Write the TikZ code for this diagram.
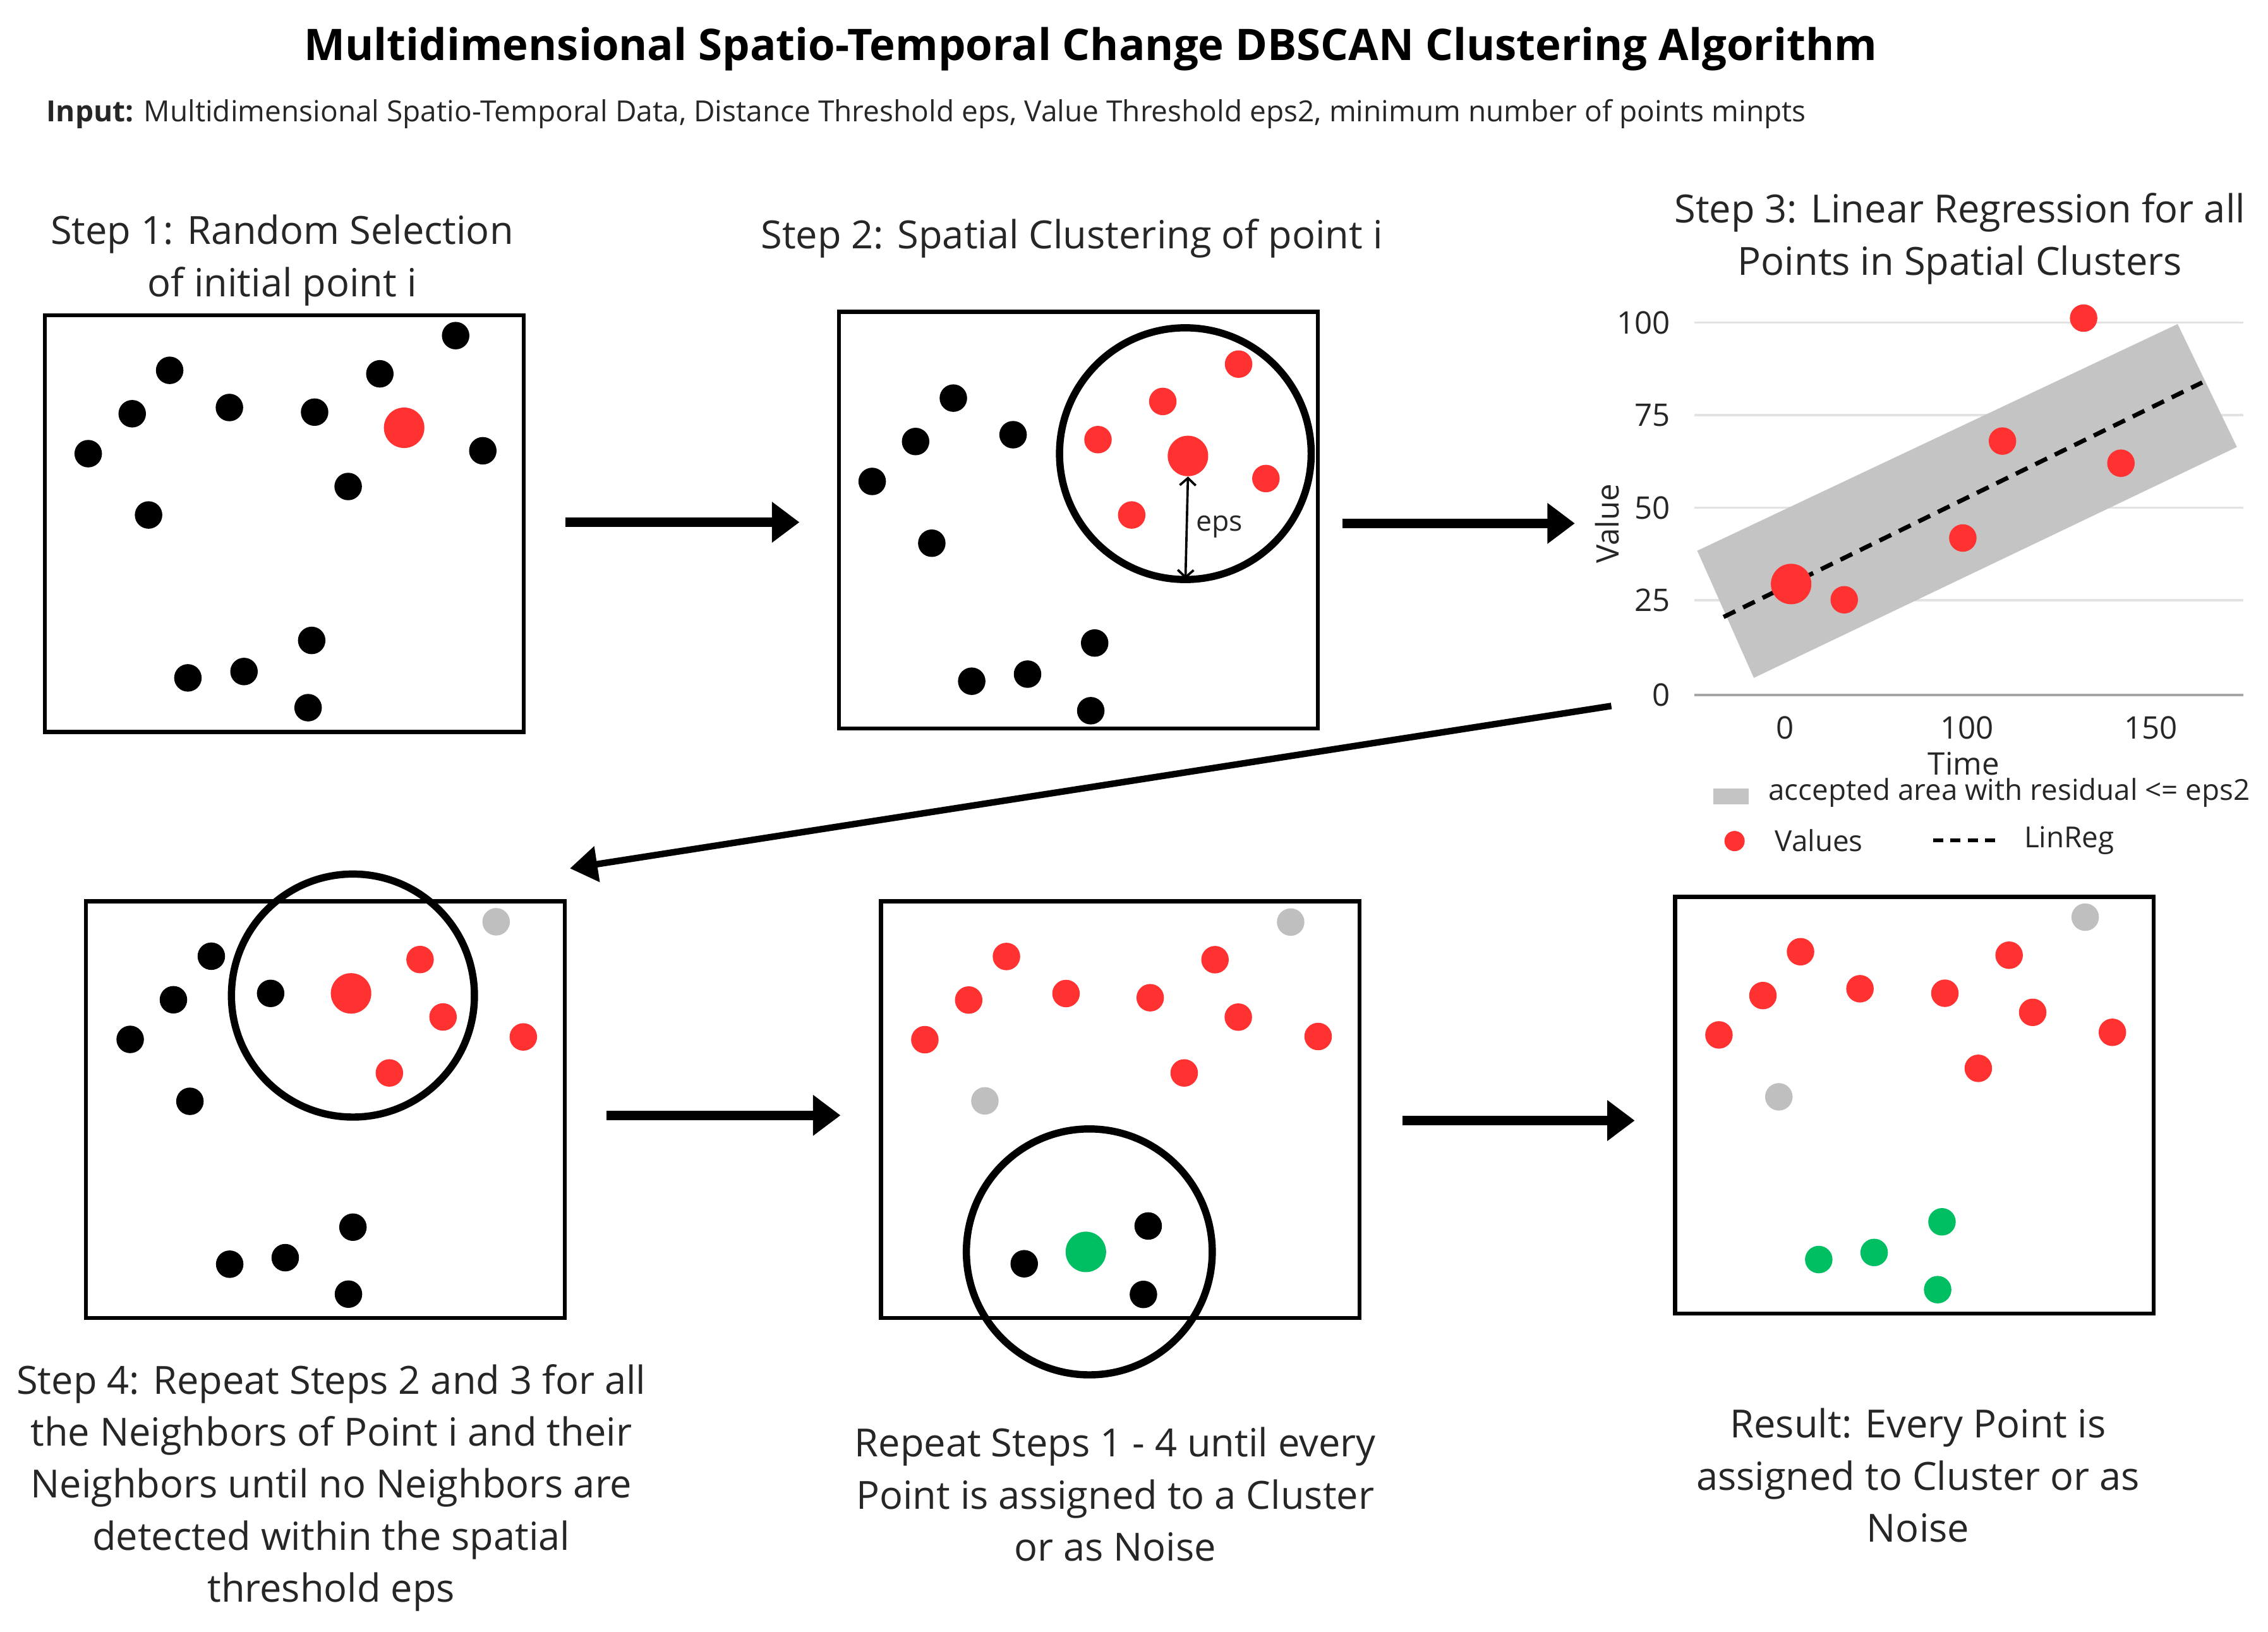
\documentclass[tikz,border=0pt]{standalone}
\usepackage{fontspec}
\setmainfont{Open Sans}
\usetikzlibrary{arrows.meta,calc}
\definecolor{dotred}{HTML}{FF3131}
\definecolor{dotgreen}{HTML}{00BF63}
\definecolor{dotgray}{HTML}{BFBFBF}
\definecolor{bandgray}{HTML}{C4C4C4}
\definecolor{gridgray}{HTML}{E2E2E2}
\definecolor{axisgray}{HTML}{A6A6A6}
\definecolor{txt}{HTML}{262626}
\begin{document}
\begin{tikzpicture}[x=1pt,y=-1pt,
  pt/.style={circle,inner sep=0pt,minimum size=19pt,fill=black},
  rpt/.style={pt,fill=dotred},
  gpt/.style={pt,fill=dotgray},
  grpt/.style={pt,fill=dotgreen},
  big/.style={minimum size=28pt},
  panel/.style={draw,line width=2.8pt,inner sep=0pt,minimum width=331pt,minimum height=288pt},
  ring/.style={draw,circle,line width=5pt,inner sep=0pt},
  flow/.style={line width=6.5pt,-{Triangle[length=19pt,width=27pt]}},
  back/.style={line width=4.5pt,-{Triangle[length=19pt,width=24pt]}},
  lbl/.style={font=\fontsize{26.8}{36}\selectfont,text=txt,align=center,inner sep=0pt},
  tick/.style={font=\fontsize{21.5}{24}\selectfont,text=txt,inner sep=0pt},
  leg/.style={font=\fontsize{20}{24}\selectfont,text=txt,inner sep=0pt,anchor=west},
]
\path[use as bounding box] (0,0) rectangle (1568,1128);

% title and input
\node[font=\bfseries\fontsize{30.1}{36}\selectfont,inner sep=0pt] (title) at (754,34) {Multidimensional Spatio-Temporal Change DBSCAN Clustering Algorithm};
\node[font=\fontsize{20.1}{24}\selectfont,anchor=west,inner sep=0pt,text=txt] (input) at (32,79) {\textbf{Input:} Multidimensional Spatio-Temporal Data, Distance Threshold eps, Value Threshold eps2, minimum number of points minpts};

% step labels
\node[lbl] (l1) at (195,180) {Step 1: Random Selection\\of initial point i};
\node[lbl] (l2) at (741,165) {Step 2: Spatial Clustering of point i};
\node[lbl] (l3) at (1355,165) {Step 3: Linear Regression for all\\Points in Spatial Clusters};
\node[lbl] (l4) at (229,1028.5) {Step 4: Repeat Steps 2 and 3 for all\\the Neighbors of Point i and their\\Neighbors until no Neighbors are\\detected within the spatial\\threshold eps};
\node[lbl] (l5) at (771,1033) {Repeat Steps 1 - 4 until every\\Point is assigned to a Cluster\\or as Noise};
\node[lbl] (l6) at (1326,1020) {Result: Every Point is\\assigned to Cluster or as\\Noise};

% panels
\node[panel] (p1) at (196.5,362) {};
\node[panel] (p2) at (745.5,359.5) {};
\node[panel] (p4) at (225,767) {};
\node[panel] (p5) at (774.5,767) {};
\node[panel] (p6) at (1323.5,764) {};

% step 1 points
\foreach \x/\y [count=\i] in {315/232,117.3/256,262.6/258.4,91.4/286,158.6/281.7,217.5/284.9,61/313.6,333.8/311.6,240.7/336.3,102.7/356,215.5/442.7,129.9/468.6,168.7/464.2,213/489.2}
  \node[pt] (a\i) at (\x,\y) {};
\node[rpt,big] (ai) at (279.4,295.7) {};

% step 2 points
\foreach \x/\y [count=\i] in {659.1/275.2,633/305.2,700.4/300.5,603/332.8,644.2/375.5,756.8/444.5,710.4/466,671.8/470.9,754.1/491.3}
  \node[pt] (b\i) at (\x,\y) {};
\foreach \x/\y [count=\i] in {856.3/251.7,803.9/277.5,759.1/303.9,875.2/330.8,782.4/356}
  \node[rpt] (br\i) at (\x,\y) {};
\node[rpt,big] (bi) at (821.3,315.2) {};
\node[ring,minimum size=174pt] (ring2) at (819.5,313.6) {};
\draw[line width=1.6pt,{Straight Barb[length=5pt,width=11pt]}-{Straight Barb[length=5pt,width=11pt]},shorten >=3pt] (bi.south) -- (ring2.south);
\node[font=\fontsize{19.5}{24}\selectfont,text=txt,inner sep=0pt] (eps) at (843,364) {eps};

% step 3 chart
\foreach \y in {223,286.9,351,414.9}
  \draw[gridgray,line width=1.5pt] (1171.5,\y) -- (1551,\y);
\draw[axisgray,line width=1.8pt] (1171.5,480.4) -- (1551,480.4);
\fill[bandgray] (1173.4,380.7) -- (1505.5,224) -- (1546.5,309) -- (1212.5,468.6) -- cycle;
\draw[line width=3pt,dash pattern=on 9pt off 6pt] (1191.6,426.5) -- (1522.5,264.4);
\node[tick,anchor=east] (y100) at (1155,223) {100};
\node[tick,anchor=east] (y75) at (1155,286.9) {75};
\node[tick,anchor=east] (y50) at (1155,351) {50};
\node[tick,anchor=east] (y25) at (1155,414.9) {25};
\node[tick,anchor=east] (y0) at (1155,480.4) {0};
\node[tick] (x0) at (1234,503) {0};
\node[tick] (x100) at (1360,503) {100};
\node[tick] (x150) at (1487,503) {150};
\node[tick] (xt) at (1357.6,528) {Time};
\node[tick,rotate=90] (yt) at (1111,362) {Value};
\node[rpt,big] (c0) at (1238.3,403.7) {};
\foreach \x/\y [count=\i] in {1275/414.6,1357/371.9,1384.4/304.9,1466.3/320.2,1440.5/219.9}
  \node[rpt] (c\i) at (\x,\y) {};
% legend
\fill[bandgray] (1184.6,544.9) rectangle (1208.9,555.8);
\node[leg] (lg1) at (1222.5,548) {accepted area with residual <= eps2};
\node[rpt,minimum size=14pt] (lgd) at (1199.2,581.4) {};
\node[leg] (lg2) at (1227,581) {Values};
\draw[line width=2.5pt,dash pattern=on 7pt off 5pt] (1336.4,581) -- (1380.4,581);
\node[leg] (lg3) at (1399.2,581) {LinReg};

% step 4 points
\foreach \x/\y [count=\i] in {146.1/661,119.9/691.1,90/718.5,187.1/686.7,131.3/761.3,244/848.3,197.2/869.4,158.8/873.9,240.9/894.6}
  \node[pt] (d\i) at (\x,\y) {};
\foreach \x/\y [count=\i] in {290.4/663.3,306.3/703,269.2/741.7,361.8/716.8}
  \node[rpt] (dr\i) at (\x,\y) {};
\node[gpt] (dg1) at (343,637.2) {};
\node[rpt,big] (di) at (242.7,686.7) {};
\node[ring,minimum size=168pt] (ring4) at (244,688.2) {};

% step 5 points
\foreach \x/\y [count=\i] in {695.8/661.2,669.7/691.3,737/686.8,795.2/689.7,840/663.4,856.1/703.1,911.3/716.5,639.4/718.7,818.7/741.7}
  \node[rpt] (e\i) at (\x,\y) {};
\node[gpt] (eg1) at (892.3,637.4) {};
\node[gpt] (eg2) at (680.9,761) {};
\foreach \x/\y [count=\i] in {793.8/847.5,708.1/873.6,790.5/894.8}
  \node[pt] (eb\i) at (\x,\y) {};
\node[grpt,big] (ei) at (750.7,865.4) {};
\node[ring,minimum size=170pt] (ring5) at (753.1,865.4) {};

% result points
\foreach \x/\y [count=\i] in {1244.8/657.9,1218.8/688.2,1285.9/683.5,1344.6/686.6,1389/660.3,1405.3/699.8,1460.4/713.6,1188.4/715.4,1367.7/738.5}
  \node[rpt] (f\i) at (\x,\y) {};
\node[gpt] (fg1) at (1441.6,634) {};
\node[gpt] (fg2) at (1229.8,758.2) {};
\foreach \x/\y [count=\i] in {1342.6/844.6,1295.7/865.8,1257.4/870.7,1339.6/891.5}
  \node[grpt] (fgr\i) at (\x,\y) {};

% flow arrows
\coordinate (s12) at (391,361);   \coordinate (e12) at (552.7,361);
\coordinate (s23) at (928,361.8); \coordinate (e23) at (1088.8,361.8);
\coordinate (s34) at (1114,488);  \coordinate (e34) at (394,600.3);
\coordinate (s45) at (419.2,771); \coordinate (e45) at (581.1,771);
\coordinate (s56) at (969.7,774.6); \coordinate (e56) at (1130.2,774.6);
\draw[flow] (s12) -- (e12);
\draw[flow] (s23) -- (e23);
\draw[back] (s34) -- (e34);
\draw[flow] (s45) -- (e45);
\draw[flow] (s56) -- (e56);
\end{tikzpicture}
\end{document}
